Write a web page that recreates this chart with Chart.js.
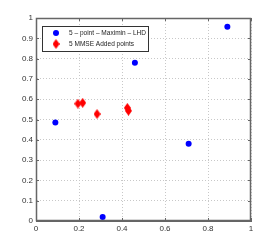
<!DOCTYPE html>
<html><head><meta charset="utf-8">
<style>html,body{margin:0;padding:0;background:#fff}#wrap{width:277px;height:249px}</style>
<script src="https://cdn.jsdelivr.net/npm/chart.js@4"></script>
</head><body><div id="wrap"><canvas id="c" width="277" height="249"></canvas></div>
<script>
const lhdX = [0.09, 0.31, 0.46, 0.71, 0.89];
const lhdY = [0.485, 0.02, 0.78, 0.38, 0.957];
const mmseX = [0.195, 0.217, 0.284, 0.425, 0.43];
const mmseY = [0.578, 0.582, 0.527, 0.557, 0.543];
const xTicks = [0, 0.2, 0.4, 0.6, 0.8, 1];
const yTicks = [0, 0.1, 0.2, 0.3, 0.4, 0.5, 0.6, 0.7, 0.8, 0.9, 1];
const seriesLabels = ['5 \u2013 point \u2013 Maximin \u2013 LHD', '5 MMSE Added points'];

const FONT = 'Liberation Sans, Arial, sans-serif';
const AXIS = '#666';

function diamond(color) {
  const c = document.createElement('canvas');
  c.width = 7; c.height = 10;
  const g = c.getContext('2d');
  g.fillStyle = color;
  g.beginPath();
  g.moveTo(3.5, 0); g.lineTo(7, 5); g.lineTo(3.5, 10); g.lineTo(0, 5); g.closePath();
  g.fill();
  return c;
}
const redDiamond = diamond('#ff0000');

const fmt = v => (v === 0 ? '0' : v === 1 ? '1' : String(v));

const frame = {
  id: 'frame',
  afterDraw(chart) {
    const ctx = chart.ctx, a = chart.chartArea;
    const xs = chart.scales.x, ys = chart.scales.y;
    ctx.save();
    ctx.strokeStyle = AXIS; ctx.lineWidth = 1.5;
    ctx.beginPath();
    ctx.rect(a.left + 0.5, a.top + 0.5, a.right - a.left - 1, a.bottom - a.top - 1);
    ctx.stroke();
    ctx.lineWidth = 1;
    ctx.beginPath();
    xTicks.forEach(v => {
      const px = Math.round(xs.getPixelForValue(v)) + 0.5;
      ctx.moveTo(px, a.bottom); ctx.lineTo(px, a.bottom - 3);
      ctx.moveTo(px, a.top); ctx.lineTo(px, a.top + 3);
    });
    yTicks.forEach(v => {
      const py = Math.round(ys.getPixelForValue(v)) + 0.5;
      ctx.moveTo(a.left, py); ctx.lineTo(a.left + 3, py);
      ctx.moveTo(a.right, py); ctx.lineTo(a.right - 3, py);
    });
    ctx.stroke();
    // legend
    const lx = a.left + 6, ly = a.top + 8, lw = 106, lh = 25;
    ctx.fillStyle = '#fff';
    ctx.fillRect(lx, ly, lw, lh);
    ctx.strokeStyle = '#333';
    ctx.strokeRect(lx + 0.5, ly + 0.5, lw, lh);
    const ds = chart.data.datasets;
    ctx.font = '8px ' + FONT;
    const w = ctx.measureText(ds[0].label).width;
    const sx = Math.min(1, 77 / w);
    ctx.textBaseline = 'middle';
    ctx.fillStyle = '#222';
    ctx.save();
    ctx.translate(lx + 27, 0);
    ctx.scale(sx, 1);
    ctx.fillText(ds[0].label, 0, ly + 7);
    ctx.fillText(ds[1].label, 0, ly + 18);
    ctx.restore();
    ctx.fillStyle = '#0000ff';
    ctx.beginPath(); ctx.arc(lx + 14, ly + 7, 3, 0, Math.PI * 2); ctx.fill();
    ctx.drawImage(redDiamond, lx + 14 - 3.5, ly + 18 - 5);
    ctx.restore();
  }
};

new Chart(document.getElementById('c'), {
  type: 'scatter',
  data: {
    datasets: [
      { label: seriesLabels[0], data: lhdX.map((x, i) => ({ x, y: lhdY[i] })),
        backgroundColor: '#0000ff', borderColor: '#0000ff', pointRadius: 3, pointStyle: 'circle', borderWidth: 0 },
      { label: seriesLabels[1], data: mmseX.map((x, i) => ({ x, y: mmseY[i] })),
        backgroundColor: '#ff0000', borderColor: '#ff0000', pointStyle: redDiamond, pointRadius: 4 }
    ]
  },
  options: {
    responsive: false, animation: false, devicePixelRatio: 1,
    layout: { padding: { top: 18, right: 26, left: 0, bottom: 0 } },
    plugins: { legend: { display: false }, tooltip: { enabled: false } },
    scales: {
      x: {
        type: 'linear', min: 0, max: 1,
        afterBuildTicks: s => { s.ticks = xTicks.map(v => ({ value: v })); },
        afterFit: s => { s.height = 28; },
        ticks: { callback: fmt, font: { size: 8, family: FONT }, color: '#333', padding: 3, maxRotation: 0 },
        grid: { color: '#c8c8c8', drawTicks: false, lineWidth: 1 },
        border: { color: AXIS, dash: [1, 2] }
      },
      y: {
        type: 'linear', min: 0, max: 1,
        afterBuildTicks: s => { s.ticks = yTicks.map(v => ({ value: v })); },
        afterFit: s => { s.width = 36; },
        ticks: { callback: fmt, font: { size: 8, family: FONT }, color: '#333', padding: 3 },
        grid: { color: '#c8c8c8', drawTicks: false, lineWidth: 1 },
        border: { color: AXIS, dash: [1, 2] }
      }
    }
  },
  plugins: [frame]
});
</script></body></html>
